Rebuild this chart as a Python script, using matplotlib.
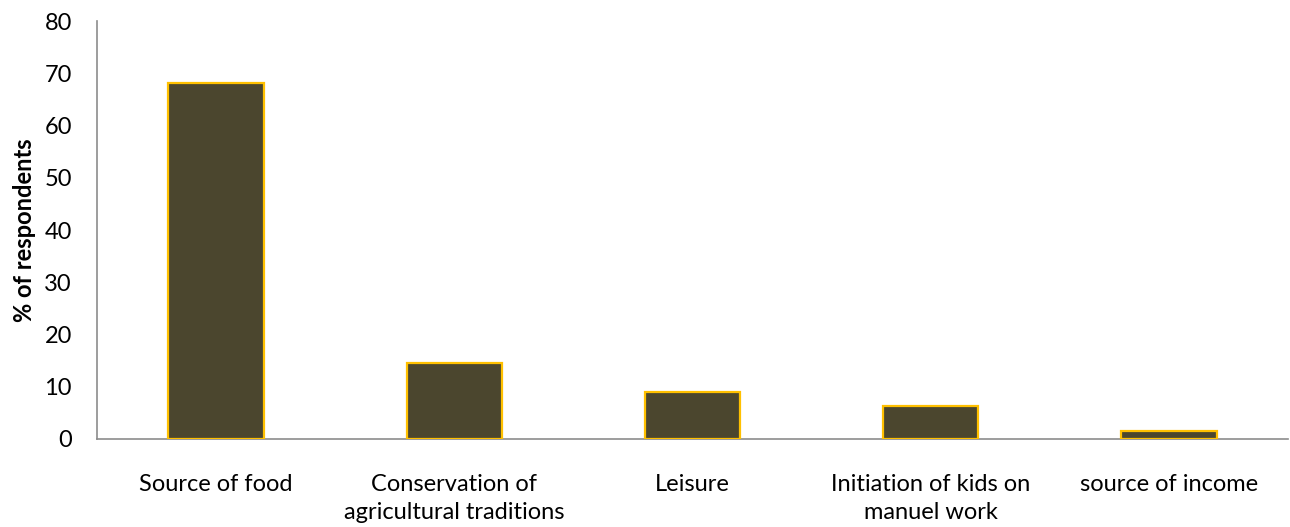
import matplotlib
matplotlib.use("Agg")
import matplotlib.pyplot as plt

categories = [
    "Source of food",
    "Conservation of\nagricultural traditions",
    "Leisure",
    "Initiation of kids on\nmanuel work",
    "source of income",
]
values = [68.2, 14.6, 8.9, 6.3, 1.6]
yticks = [0, 10, 20, 30, 40, 50, 60, 70, 80]

plt.rcParams["font.family"] = ["Lato", "DejaVu Sans"]

fig = plt.figure(figsize=(12.9, 5.27), dpi=100)
ax = fig.add_axes([0.0752, 0.167, 0.9233, 0.793])

x = list(range(len(categories)))
ax.bar(x, values, width=0.40, color="#4b462e", edgecolor="#ffc000", linewidth=1.6, zorder=3)

ax.set_xlim(-0.5, len(categories) - 0.5)
ax.set_ylim(0, 80)
ax.set_yticks(yticks)
ax.set_yticklabels([str(t) for t in yticks], fontsize=17)
ax.set_xticks(x)
ax.set_xticklabels(categories, fontsize=17, linespacing=1.4)
ax.tick_params(axis="both", length=0, colors="black")
ax.tick_params(axis="y", pad=18)
ax.tick_params(axis="x", pad=25)

for side in ("top", "right"):
    ax.spines[side].set_visible(False)
for side in ("left", "bottom"):
    ax.spines[side].set_color("#8c8c8c")
    ax.spines[side].set_linewidth(1.2)

ax.set_ylabel("% of respondents", fontsize=17, fontweight="bold", labelpad=6)

fig.savefig("out.png", dpi=100)
